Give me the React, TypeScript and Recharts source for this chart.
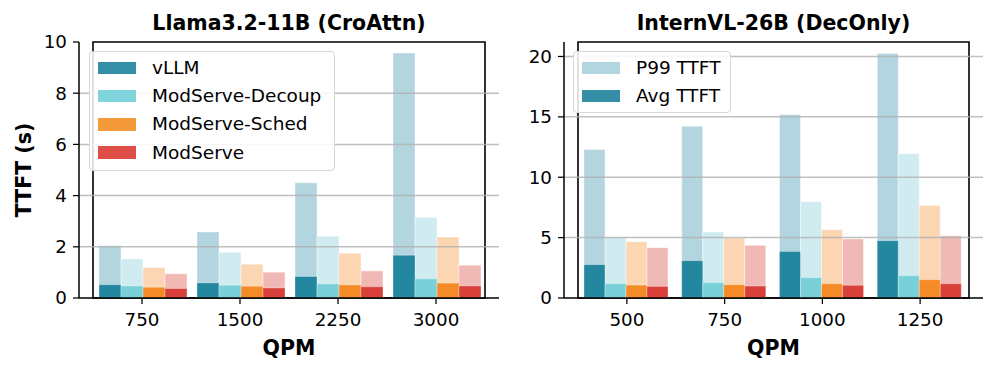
import React from 'react';
import { BarChart, Bar, XAxis, YAxis, ReferenceLine, ReferenceArea } from 'recharts';

// ---------- data ----------
const categoriesL = ['750', '1500', '2250', '3000'];
const vllmP99L = [2.04, 2.58, 4.5, 9.57];
const vllmAvgL = [0.52, 0.59, 0.84, 1.67];
const decoupP99L = [1.53, 1.79, 2.41, 3.15];
const decoupAvgL = [0.47, 0.5, 0.55, 0.75];
const schedP99L = [1.19, 1.32, 1.75, 2.38];
const schedAvgL = [0.42, 0.46, 0.51, 0.58];
const modP99L = [0.95, 1.01, 1.06, 1.28];
const modAvgL = [0.37, 0.39, 0.44, 0.47];

const categoriesR = ['500', '750', '1000', '1250'];
const vllmP99R = [12.29, 14.22, 15.19, 20.24];
const vllmAvgR = [2.76, 3.09, 3.86, 4.75];
const decoupP99R = [5.05, 5.47, 7.98, 11.95];
const decoupAvgR = [1.18, 1.27, 1.68, 1.85];
const schedP99R = [4.66, 4.97, 5.66, 7.65];
const schedAvgR = [1.07, 1.1, 1.18, 1.52];
const modP99R = [4.17, 4.36, 4.89, 5.16];
const modAvgR = [0.96, 0.99, 1.05, 1.18];

const seriesNames = ['vLLM', 'ModServe-Decoup', 'ModServe-Sched', 'ModServe'];
const seriesKeys = ['vllm', 'decoup', 'sched', 'mod'];
const ticksL = [0, 2, 4, 6, 8, 10];
const ticksR = [0, 5, 10, 15, 20];
const titleL = 'Llama3.2-11B (CroAttn)';
const titleR = 'InternVL-26B (DecOnly)';
const legendR = ['P99 TTFT', 'Avg TTFT'];

// ---------- styles ----------
const avgColors = ['#23879f', '#79d0d8', '#f58b27', '#d9403a'];
const p99Colors = ['#b3d5df', '#d0ecf0', '#fcd5b2', '#f1b9b6'];
const legendColors = ['#338ea6', '#82d4dc', '#f59a3a', '#dd4f46'];
const FONT = '"DejaVu Sans", sans-serif';

function buildRows(cats: string[], p99: number[][], avg: number[][]) {
  return cats.map((c, i) => {
    const row: any = { qpm: c };
    seriesKeys.forEach((k, s) => {
      row[k + 'P99'] = p99[s][i];
      row[k + 'Avg'] = avg[s][i];
    });
    return row;
  });
}

const dataL = buildRows(
  categoriesL,
  [vllmP99L, decoupP99L, schedP99L, modP99L],
  [vllmAvgL, decoupAvgL, schedAvgL, modAvgL]
);
const dataR = buildRows(
  categoriesR,
  [vllmP99R, decoupP99R, schedP99R, modP99R],
  [vllmAvgR, decoupAvgR, schedAvgR, modAvgR]
);

const tickStyle = { fontSize: 18.3, fill: '#000', fontFamily: FONT };

function Panel(props: {
  data: any[];
  ticks: number[];
  ymax: number;
  title: string;
  yLabel?: string;
  yAxisWidth: number;
  width: number;
  marginRight: number;
}) {
  const { data, ticks, ymax, title, yLabel, yAxisWidth, width, marginRight } = props;
  return (
    <BarChart
      width={width}
      height={373}
      data={data}
      margin={{ top: 42, right: marginRight, bottom: 0, left: 0 }}
      barCategoryGap={6}
      barGap={0}
    >
      <XAxis
        xAxisId="bottom"
        dataKey="qpm"
        type="category"
        padding={{ left: 14, right: 14 }}
        height={75}
        tick={tickStyle}
        tickSize={6}
        tickMargin={9}
        tickLine={{ stroke: '#000', strokeWidth: 1.25 }}
        axisLine={{ stroke: '#000', strokeWidth: 1.5 }}
        interval={0}
        label={{
          content: (p: any) => {
            const vb = p.viewBox || { x: 0, y: 298, width: 420, height: 75 };
            return (
              <text
                x={vb.x + vb.width / 2}
                y={vb.y + 49.5}
                textAnchor="middle"
                dominantBaseline="central"
                fontWeight="bold"
                fontSize={20.5}
                fontFamily={FONT}
                fill="#000"
              >
                QPM
              </text>
            );
          },
        }}
      />
      <XAxis xAxisId="top" dataKey="qpm" type="category" padding={{ left: 14, right: 14 }} hide />
      <YAxis
        yAxisId="left"
        type="number"
        domain={[0, ymax]}
        ticks={ticks}
        width={yAxisWidth}
        tick={tickStyle}
        tickSize={6}
        tickMargin={6}
        tickLine={{ stroke: '#000', strokeWidth: 1.25 }}
        axisLine={{ stroke: '#000', strokeWidth: 1.5 }}
        allowDataOverflow
        label={
          yLabel
            ? {
                content: (p: any) => {
                  const vb = p.viewBox || { x: 0, y: 42, width: yAxisWidth, height: 256 };
                  const x = vb.x + 23.5;
                  const y = vb.y + vb.height / 2;
                  return (
                    <text
                      x={x}
                      y={y}
                      transform={`rotate(-90, ${x}, ${y})`}
                      textAnchor="middle"
                      dominantBaseline="central"
                      fontWeight="bold"
                      fontSize={20.5}
                      fontFamily={FONT}
                      fill="#000"
                    >
                      {yLabel}
                    </text>
                  );
                },
              }
            : undefined
        }
      />
      {seriesKeys.map((k, s) => (
        <Bar
          key={k + 'P99'}
          xAxisId="bottom"
          yAxisId="left"
          dataKey={k + 'P99'}
          name={seriesNames[s] + ' P99'}
          fill={p99Colors[s]}
          stroke="#ffffff"
          strokeWidth={0.6}
          strokeOpacity={0.7}
          isAnimationActive={false}
        />
      ))}
      {seriesKeys.map((k, s) => (
        <Bar
          key={k + 'Avg'}
          xAxisId="top"
          yAxisId="left"
          dataKey={k + 'Avg'}
          name={seriesNames[s] + ' Avg'}
          fill={avgColors[s]}
          stroke="#ffffff"
          strokeWidth={0.6}
          strokeOpacity={0.5}
          isAnimationActive={false}
        />
      ))}
      {ticks
        .filter((t) => t > 0 && t < ymax)
        .map((t) => (
          <ReferenceLine
            key={'g' + t}
            xAxisId="bottom"
            yAxisId="left"
            y={t}
            stroke="#b0b0b0"
            strokeWidth={1.5}
            strokeOpacity={0.8}
          />
        ))}
      <ReferenceArea
        xAxisId="bottom"
        yAxisId="left"
        y1={0}
        y2={ymax}
        fill="none"
        fillOpacity={0}
        stroke="#000"
        strokeOpacity={1}
        strokeWidth={1.6}
        label={{
          content: (p: any) => {
            const vb = p.viewBox || { x: 0, y: 42, width: 420, height: 256 };
            return (
              <text
                x={vb.x + vb.width / 2}
                y={vb.y - 19}
                textAnchor="middle"
                dominantBaseline="central"
                fontWeight="bold"
                fontSize={20.5}
                fontFamily={FONT}
                fill="#000"
              >
                {title}
              </text>
            );
          },
        }}
      />
    </BarChart>
  );
}

const legendBox: React.CSSProperties = {
  position: 'absolute',
  boxSizing: 'border-box',
  border: '1.2px solid #d6d6d6',
  borderRadius: 4,
  background: 'rgba(255,255,255,0.85)',
  fontFamily: FONT,
  fontSize: 18.5,
  color: '#000',
};

function LegendRows(props: { labels: string[]; colors: string[]; patchLeft: number; textLeft: number }) {
  const { labels, colors, patchLeft, textLeft } = props;
  return (
    <>
      {labels.map((l, i) => (
        <div key={l} style={{ position: 'absolute', left: 0, top: 2 + i * 28.2, height: 28, width: '100%' }}>
          <div
            style={{
              position: 'absolute',
              left: patchLeft,
              top: 7.5,
              width: 38.5,
              height: 12.7,
              background: colors[i],
            }}
          />
          <div style={{ position: 'absolute', left: textLeft, top: 0, lineHeight: '28px', whiteSpace: 'nowrap' }}>
            {l}
          </div>
        </div>
      ))}
    </>
  );
}

export default function App() {
  return (
    <div style={{ position: 'absolute', left: 0, top: 0, width: 997, height: 373, background: '#fff', overflow: 'hidden' }}>
      <div style={{ position: 'absolute', left: 0, top: 0 }}>
        <Panel data={dataL} ticks={ticksL} ymax={10} title={titleL} yLabel="TTFT (s)" yAxisWidth={79} width={500} marginRight={1} />
      </div>
      <div style={{ position: 'absolute', left: 500, top: 0 }}>
        <Panel data={dataR} ticks={ticksR} ymax={21.2} title={titleR} yAxisWidth={64} width={497} marginRight={14} />
      </div>
      <div style={{ ...legendBox, left: 89, top: 51, width: 246, height: 120 }}>
        <LegendRows labels={seriesNames} colors={legendColors} patchLeft={7.5} textLeft={62} />
      </div>
      <div style={{ ...legendBox, left: 573, top: 51, width: 158, height: 62 }}>
        <LegendRows labels={legendR} colors={[p99Colors[0], legendColors[0]]} patchLeft={7.5} textLeft={62} />
      </div>
    </div>
  );
}
